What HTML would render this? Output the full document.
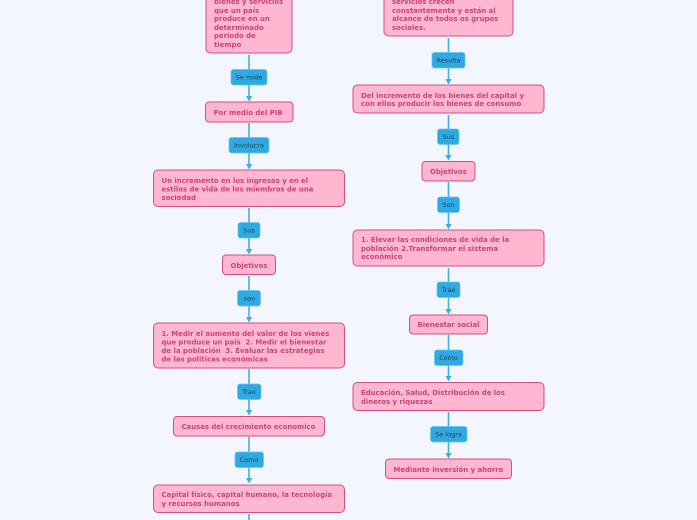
<!DOCTYPE html>
<html><head><meta charset="utf-8"><style>
html,body{margin:0;padding:0;background:#f3f6ff;width:697px;height:520px;overflow:hidden}
svg{display:block}
.b{fill:#ffb6d0;stroke:#d2507f;stroke-width:1}
.l{fill:#2fa9e2;stroke:#6cc4ee;stroke-width:.7}
.c{stroke:#42afe6;stroke-width:1.6;fill:none}
.a{fill:#3daee6}
.t{font:bold 6.9px "DejaVu Sans",sans-serif;fill:#c8457a}
.m{font:6.5px "DejaVu Sans",sans-serif;fill:#26445c;text-anchor:middle}
</style></head><body>
<svg width="697" height="520" viewBox="0 0 697 520" xmlns="http://www.w3.org/2000/svg">
<g class="c">
<path d="M249 55V97M249 123V165M249 208V250M249 276V318M249 369V411M249 437V480M249 514V520"/>
<path d="M448.500 38V80M448.500 115V156M448.500 182V225M448.500 268V310M448.500 335V378M448.500 412V454"/>
</g>
<g class="a">
<path d="M246 96h6.200l-3.100 5.500zM246 164h6.200l-3.100 5.500zM246 249h6.200l-3.100 5.500zM246 317h6.200l-3.100 5.500zM246 410h6.200l-3.100 5.500zM246 478h6.200l-3.100 5.500z"/>
<path d="M445.400 79h6.200l-3.100 5.500zM445.400 155h6.200l-3.100 5.500zM445.400 224h6.200l-3.100 5.500zM445.400 309h6.200l-3.100 5.500zM445.400 376h6.200l-3.100 5.500zM445.400 453h6.200l-3.100 5.500z"/>
</g>
<rect class="b" x="206" y="-30" width="86" height="83" rx="4.500"/>
<rect class="b" x="205.500" y="102" width="87.500" height="20" rx="3.500"/>
<rect class="b" x="153.500" y="170" width="191" height="36.500" rx="4.500"/>
<rect class="b" x="222.500" y="255" width="53" height="19.500" rx="3.500"/>
<rect class="b" x="153.500" y="323" width="191" height="45" rx="4.500"/>
<rect class="b" x="173.500" y="416.500" width="151" height="19.500" rx="3.500"/>
<rect class="b" x="153.500" y="485" width="191" height="27.500" rx="4.500"/>
<rect class="b" x="384" y="-30" width="129" height="66" rx="4.500"/>
<rect class="b" x="353" y="85" width="191" height="28" rx="4.500"/>
<rect class="b" x="422" y="161.500" width="53" height="19.500" rx="3.500"/>
<rect class="b" x="353" y="230" width="191" height="36" rx="4.500"/>
<rect class="b" x="409.500" y="315" width="78" height="19" rx="3.500"/>
<rect class="b" x="353" y="382.500" width="191" height="28" rx="4.500"/>
<rect class="b" x="385.500" y="459" width="126" height="19.500" rx="3.500"/>
<rect class="l" x="231" y="69.500" width="36" height="15.500" rx="2.500"/>
<rect class="l" x="229" y="137.500" width="40" height="15.500" rx="2.500"/>
<rect class="l" x="238" y="222.500" width="22" height="15.500" rx="2.500"/>
<rect class="l" x="237.500" y="290.500" width="23" height="15.500" rx="2.500"/>
<rect class="l" x="237.500" y="384" width="23.500" height="15.500" rx="2.500"/>
<rect class="l" x="235" y="452" width="28.500" height="15.500" rx="2.500"/>
<rect class="l" x="432" y="52.500" width="33" height="15.500" rx="2.500"/>
<rect class="l" x="437.500" y="129" width="21.500" height="15.500" rx="2.500"/>
<rect class="l" x="437.500" y="197" width="22" height="15.500" rx="2.500"/>
<rect class="l" x="437" y="282" width="23" height="15.500" rx="2.500"/>
<rect class="l" x="434.500" y="350" width="28.500" height="15.500" rx="2.500"/>
<rect class="l" x="430.500" y="426.500" width="36.500" height="15.500" rx="2.500"/>
<g class="m">
<text x="249" y="79.500">Se mide</text>
<text x="249" y="147.500">Involucra</text>
<text x="249" y="232.500">Sus</text>
<text x="249.500" y="300.500">son</text>
<text x="249" y="394">Trae</text>
<text x="249" y="462">Como</text>
<text x="448.500" y="62.500">Resulta</text>
<text x="448.500" y="139">Sus</text>
<text x="448.500" y="207">Son</text>
<text x="448.500" y="292">Trae</text>
<text x="448.500" y="360">Como</text>
<text x="448.500" y="436.500">Se logra</text>
</g>
<g class="t">
<text x="214" y="4">bienes y servicios</text>
<text x="214" y="13">que un país</text>
<text x="214" y="21">produce en un</text>
<text x="214" y="30">determinado</text>
<text x="214" y="38">periodo de</text>
<text x="214" y="47">tiempo</text>
<text x="213.500" y="115">Por medio del PIB</text>
<text x="161.500" y="183">Un incremento en los ingresos y en el</text>
<text x="161.500" y="191.500">estilos de vida de los miembros de una</text>
<text x="161.500" y="200">sociedad</text>
<text x="230.500" y="268">Objetivos</text>
<text x="161.500" y="336">1. Medir el aumento del valor de los vienes</text>
<text x="161.500" y="344.500">que produce un país &#160;2. Medir el bienestar</text>
<text x="161.500" y="353">de la población &#160;3. Evaluar las estrategias</text>
<text x="161.500" y="361.500">de las políticas económicas</text>
<text x="181.500" y="429">Causas del crecimiento economico</text>
<text x="161.500" y="497">Capital físico, capital humano, la tecnología</text>
<text x="161.500" y="506">y recursos humanos</text>
<text x="392" y="4">servicios crecen</text>
<text x="392" y="13">constantemente y están al</text>
<text x="392" y="21">alcance de todos os grupos</text>
<text x="392" y="30">sociales.</text>
<text x="361" y="98">Del incremento de los bienes del capital y</text>
<text x="361" y="106">con ellos producir los bienes de consumo</text>
<text x="430" y="174">Objetivos</text>
<text x="361" y="242">1. Elevar las condiciones de vida de la</text>
<text x="361" y="251">población 2.Transformar el sistema</text>
<text x="361" y="259">económico</text>
<text x="417.500" y="327">Bienestar social</text>
<text x="361" y="395">Educación, Salud, Distribución de los</text>
<text x="361" y="404">dineros y riquezas</text>
<text x="393.500" y="472">Mediante inversión y ahorro</text>
</g>
</svg>
</body></html>
